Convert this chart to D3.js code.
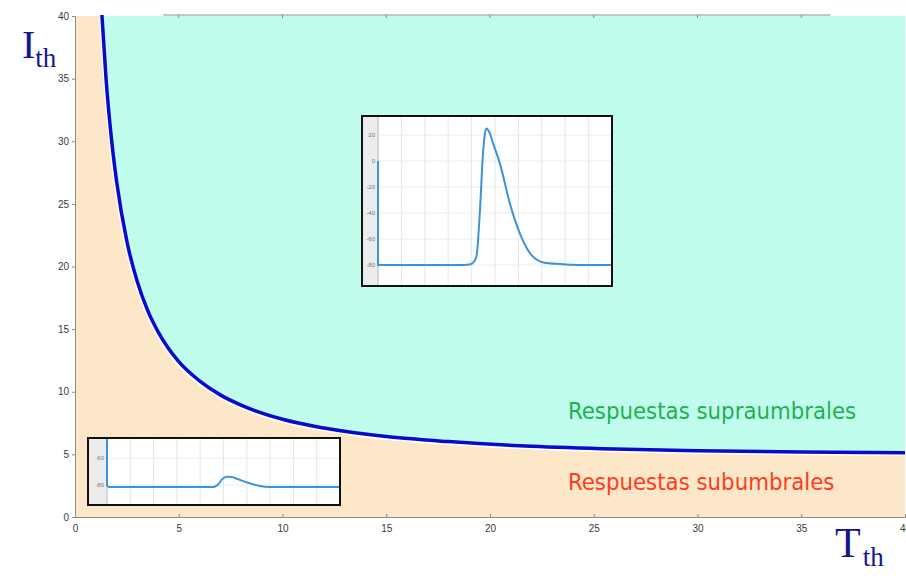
<!DOCTYPE html>
<html>
<head>
<meta charset="utf-8">
<script src="https://cdn.jsdelivr.net/npm/d3@7"></script>
<style>
  body { margin: 0; background: #fff; }
  .tick text { font-family: "Liberation Sans", Arial, sans-serif; }
</style>
</head>
<body>
<svg id="chart" width="906" height="576"></svg>
<script>
// strength-duration curve
var T_th = [1.2, 1.3, 1.5, 1.75, 2.0, 2.5, 3.0, 3.5, 4.0, 5.0, 6.0, 7.0, 8.0, 10, 12, 15, 18, 22, 26, 30, 35, 40];
var I_th = [43, 40, 34.9, 30.3, 26.85, 22.0, 18.8, 16.5, 14.8, 12.4, 10.87, 9.75, 8.93, 7.8, 7.1, 6.42, 6.02, 5.64, 5.42, 5.29, 5.19, 5.13];

var xTicks = [0, 5, 10, 15, 20, 25, 30, 35, 40];
var yTicks = [0, 5, 10, 15, 20, 25, 30, 35, 40];
var topTicks = [5, 10, 15, 20, 25, 30, 35];
var topSpan = [4.25, 36.4];

// suprathreshold response (inset)
var supraT = [0, 0, 0.05, 3.7, 3.95, 4.07, 4.21, 4.36, 4.47, 4.57, 4.64, 4.75, 4.93, 5.21, 5.64, 6.07, 6.5, 7.07, 7.79, 8.6, 10];
var supraV = [0, -80, -80, -80, -79.5, -78, -73, -37, 1, 21, 25, 22.5, 13, -2, -33, -56, -71, -78, -79.3, -80, -80];
var supraTicks = [20, 0, -20, -40, -60, -80];

// subthreshold response (inset)
var subT = [0, 0, 0.1, 4.55, 4.75, 4.95, 5.15, 5.35, 5.6, 6.0, 6.5, 7.0, 10];
var subV = [-40, -80.5, -81.5, -81.5, -80, -75.5, -73.8, -74, -75.5, -78, -80.5, -81.5, -81.5];
var subTicks = [-60, -80];
var insetGrid = [0, 1, 2, 3, 4, 5, 6, 7, 8, 9, 10];

var svg = d3.select("#chart");

var x = d3.scaleLinear().domain([0, 40]).range([75, 905]);
var y = d3.scaleLinear().domain([0, 40]).range([517, 16]);

var curveData = T_th.map(function(d, i) { return [d, I_th[i]]; });

svg.append("clipPath").attr("id", "plotclip")
  .append("rect")
    .attr("x", x(0)).attr("y", y(40) - 1)
    .attr("width", x(40) - x(0)).attr("height", y(0) - y(40) + 1);

var plot = svg.append("g").attr("clip-path", "url(#plotclip)");

// sub-threshold region
plot.append("rect")
    .attr("x", x(0)).attr("y", y(40))
    .attr("width", x(40) - x(0)).attr("height", y(0) - y(40))
    .attr("fill", "#fde7c9");

// supra-threshold region
var area = d3.area()
    .x(function(d) { return x(d[0]); })
    .y0(function(d) { return y(d[1]); })
    .y1(y(40))
    .curve(d3.curveMonotoneX);

plot.append("path")
    .datum(curveData)
    .attr("d", area)
    .attr("fill", "#c1fdec");

var line = d3.line()
    .x(function(d) { return x(d[0]); })
    .y(function(d) { return y(d[1]); })
    .curve(d3.curveMonotoneX);

// white halo under the curve
plot.append("path")
    .datum(curveData)
    .attr("d", line)
    .attr("transform", "translate(-1.5,2)")
    .attr("fill", "none")
    .attr("stroke", "#fff")
    .attr("stroke-width", 2.5);

plot.append("path")
    .datum(curveData)
    .attr("d", line)
    .attr("fill", "none")
    .attr("stroke", "#0a0acc")
    .attr("stroke-width", 3.5);

// axes
var xAxis = svg.append("g")
    .attr("transform", "translate(0," + y(0) + ")")
    .call(d3.axisBottom(x).tickValues(xTicks).tickSize(-3).tickPadding(8));
var yAxis = svg.append("g")
    .attr("transform", "translate(" + x(0) + ",0)")
    .call(d3.axisLeft(y).tickValues(yTicks).tickSize(3).tickPadding(3));

[xAxis, yAxis].forEach(function(a) {
  a.select(".domain").attr("stroke", "#8a8a8a");
  a.selectAll(".tick line").attr("stroke", "#8a8a8a");
  a.selectAll(".tick text").attr("fill", "#3a3a3a").style("font-size", "10px");
});

// short top rule
svg.append("line")
    .attr("x1", x(topSpan[0])).attr("x2", x(topSpan[1]))
    .attr("y1", 15).attr("y2", 15)
    .attr("stroke", "#8a8a8a");
svg.selectAll(".toptick")
    .data(topTicks)
  .enter().append("line")
    .attr("class", "toptick")
    .attr("x1", function(d) { return x(d); }).attr("x2", function(d) { return x(d); })
    .attr("y1", 15).attr("y2", 18)
    .attr("stroke", "#8a8a8a");

// axis titles
var it = svg.append("text")
    .attr("x", 22).attr("y", 58)
    .attr("fill", "#15158f")
    .style("font-family", "'Liberation Serif', 'Times New Roman', serif");
it.append("tspan").style("font-size", "40px").text("I");
it.append("tspan").attr("dy", 9).style("font-size", "27px").text("th");

var tt = svg.append("text")
    .attr("x", 835).attr("y", 557)
    .attr("fill", "#15158f")
    .style("font-family", "'Liberation Serif', 'Times New Roman', serif");
tt.append("tspan").style("font-size", "42px").text("T");
tt.append("tspan").attr("dx", 2).attr("dy", 9).style("font-size", "27px").text("th");

// region labels
svg.append("text")
    .attr("x", 568).attr("y", 419)
    .attr("fill", "#1db150")
    .style("font-family", "'DejaVu Sans Condensed', 'DejaVu Sans', sans-serif")
    .style("font-size", "23.7px")
    .text("Respuestas supraumbrales");
svg.append("text")
    .attr("x", 568).attr("y", 490)
    .attr("fill", "#ff3d1e")
    .style("font-family", "'DejaVu Sans Condensed', 'DejaVu Sans', sans-serif")
    .style("font-size", "23.7px")
    .text("Respuestas subumbrales");

// insets
function drawInset(id, box, strip, vDomain, vRange, tt, vv, ticks) {
  var g = svg.append("g");
  var ix = d3.scaleLinear().domain([0, 10]).range([strip, box.x1]);
  var iy = d3.scaleLinear().domain(vDomain).range(vRange);

  g.append("clipPath").attr("id", id)
    .append("rect")
      .attr("x", box.x0).attr("y", box.y0)
      .attr("width", box.x1 - box.x0).attr("height", box.y1 - box.y0);

  var inner = g.append("g").attr("clip-path", "url(#" + id + ")");
  inner.append("rect")
      .attr("x", box.x0).attr("y", box.y0)
      .attr("width", box.x1 - box.x0).attr("height", box.y1 - box.y0)
      .attr("fill", "#fff");
  inner.append("rect")
      .attr("x", box.x0).attr("y", box.y0)
      .attr("width", strip - box.x0).attr("height", box.y1 - box.y0)
      .attr("fill", "#ececec");

  inner.selectAll(".vg")
      .data(insetGrid)
    .enter().append("line")
      .attr("x1", function(d) { return ix(d); }).attr("x2", function(d) { return ix(d); })
      .attr("y1", box.y0).attr("y2", box.y1)
      .attr("stroke", "#e6e6e6");
  inner.selectAll(".hg")
      .data(ticks)
    .enter().append("line")
      .attr("x1", strip).attr("x2", box.x1)
      .attr("y1", function(d) { return iy(d); }).attr("y2", function(d) { return iy(d); })
      .attr("stroke", "#ececec");
  inner.append("line")
      .attr("x1", strip).attr("x2", strip)
      .attr("y1", box.y0).attr("y2", box.y1)
      .attr("stroke", "#bdbdbd");

  inner.selectAll(".lbl")
      .data(ticks)
    .enter().append("text")
      .attr("x", strip - 3)
      .attr("y", function(d) { return iy(d); })
      .attr("dy", "0.35em")
      .attr("text-anchor", "end")
      .attr("fill", "#777")
      .style("font-family", "'Liberation Sans', Arial, sans-serif")
      .style("font-size", "6px")
      .text(function(d) { return d; });

  var pts = tt.map(function(d, i) { return [d, vv[i]]; });
  inner.append("path")
      .datum(pts)
      .attr("d", d3.line()
        .x(function(d) { return ix(d[0]); })
        .y(function(d) { return iy(d[1]); })
        .curve(d3.curveMonotoneX))
      .attr("fill", "none")
      .attr("stroke", "#3d93d8")
      .attr("stroke-width", 2);

  g.append("rect")
      .attr("x", box.x0).attr("y", box.y0)
      .attr("width", box.x1 - box.x0).attr("height", box.y1 - box.y0)
      .attr("fill", "none")
      .attr("stroke", "#111")
      .attr("stroke-width", 2);
}

drawInset("supraclip", {x0: 362, x1: 612, y0: 116, y1: 286}, 378,
  [-80, 20], [265, 135], supraT, supraV, supraTicks);
drawInset("subclip", {x0: 88, x1: 340, y0: 438, y1: 505}, 107,
  [-80, -60], [485, 458.3], subT, subV, subTicks);
</script>
</body>
</html>
